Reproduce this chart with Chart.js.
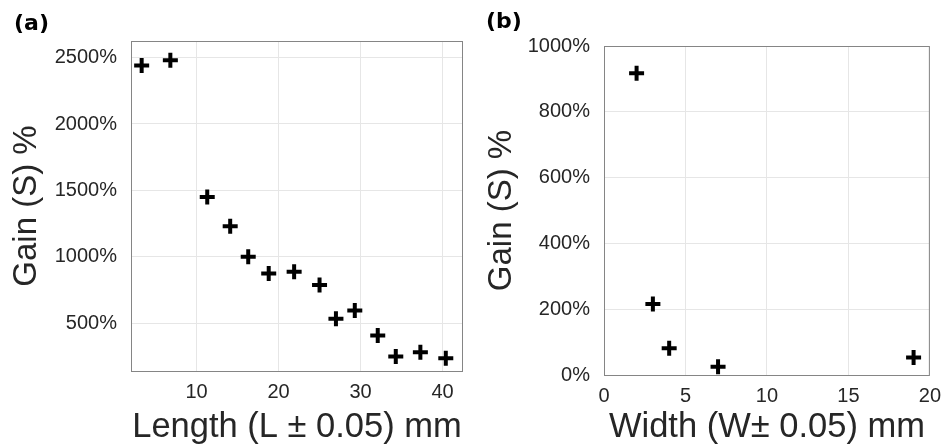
<!DOCTYPE html>
<html>
<head>
<meta charset="utf-8">
<script src="https://cdn.jsdelivr.net/npm/chart.js@4"></script>
<style>
    body { margin: 0; background: #fff; }
    .panel { position: absolute; top: 0; width: 475px; height: 448px; }
    .tag { position: absolute; font: bold 22px "DejaVu Sans", sans-serif; color: #000; }
</style>
</head>
<body>
<div class="panel" style="left:0"><canvas id="chartA" width="475" height="448"></canvas></div>
<div class="panel" style="left:475px"><canvas id="chartB" width="475" height="448"></canvas></div>
<div class="tag" style="left:14px; top:10px">(a)</div>
<div class="tag" style="left:486px; top:8px">(b)</div>
<script>
// panel (a): gain vs length
const lengthMm = [3.3, 6.8, 11.3, 14.1, 16.3, 18.8, 21.9, 25.0, 27.0, 29.3, 32.1, 34.3, 37.3, 40.4];
const gainA = [2440, 2480, 1450, 1230, 1000, 875, 887, 787, 533, 596, 407, 249, 282, 236];
const xTicksA = [10, 20, 30, 40];
const yTicksA = [500, 1000, 1500, 2000, 2500];

// panel (b): gain vs width
const widthMm = [2, 3, 4, 7, 19];
const gainB = [917, 216, 81, 25, 53];
const xTicksB = [0, 5, 10, 15, 20];
const yTicksB = [0, 200, 400, 600, 800, 1000];

const textColor = '#262626';
const tickFont = { family: 'Liberation Sans, Arial, sans-serif', size: 20 };
const xTitleFont = { family: 'Liberation Sans, Arial, sans-serif', size: 34.5 };
const yTitleFont = { family: 'Liberation Sans, Arial, sans-serif', size: 33 };

// MATLAB style full box around the plot area
const boxPlugin = {
    id: 'box',
    afterDraw(chart) {
        const a = chart.chartArea;
        const ctx = chart.ctx;
        ctx.save();
        ctx.strokeStyle = '#858585';
        ctx.lineWidth = 1;
        ctx.strokeRect(a.left + 0.5, a.top + 0.5, a.right - a.left - 1, a.bottom - a.top);
        ctx.restore();
    }
};

function makeChart(id, xs, ys, cfg) {
    return new Chart(document.getElementById(id), {
        type: 'scatter',
        data: {
            datasets: [{
                data: xs.map((x, i) => ({ x: x, y: ys[i] })),
                pointStyle: 'cross',
                pointRadius: 7.5,
                pointBorderWidth: 4,
                borderColor: '#000',
                backgroundColor: '#000',
                clip: false
            }]
        },
        options: {
            responsive: false,
            animation: false,
            layout: { padding: { top: cfg.top, right: cfg.right, left: 0, bottom: 0 } },
            plugins: { legend: { display: false }, tooltip: { enabled: false } },
            scales: {
                x: {
                    type: 'linear',
                    min: cfg.xMin, max: cfg.xMax,
                    afterBuildTicks: s => { s.ticks = cfg.xTicks.map(v => ({ value: v })); },
                    afterFit: s => { s.height = cfg.xHeight; },
                    grid: { color: '#e6e6e6', drawTicks: false },
                    border: { display: false },
                    ticks: { font: tickFont, color: textColor, padding: 9, maxRotation: 0 },
                    title: { display: true, text: cfg.xTitle, font: xTitleFont, color: textColor, padding: { top: 0, bottom: 0 } }
                },
                y: {
                    type: 'linear',
                    min: cfg.yMin, max: cfg.yMax,
                    afterBuildTicks: s => { s.ticks = cfg.yTicks.map(v => ({ value: v })); },
                    afterFit: s => { s.width = cfg.yWidth; },
                    grid: { color: '#e6e6e6', drawTicks: false },
                    border: { display: false },
                    ticks: { font: tickFont, color: textColor, padding: 14, callback: v => v + '%' },
                    title: { display: true, text: 'Gain (S) %', font: yTitleFont, color: textColor, padding: { top: 7, bottom: 0 } }
                }
            }
        },
        plugins: [boxPlugin]
    });
}

makeChart('chartA', lengthMm, gainA, {
    top: 41, right: 12, xHeight: 77, yWidth: 131,
    xMin: 2, xMax: 42.5, yMin: 140, yMax: 2625,
    xTicks: xTicksA, yTicks: yTicksA,
    xTitle: 'Length (L \u00b1 0.05) mm'
});

makeChart('chartB', widthMm, gainB, {
    top: 46, right: 12, xHeight: 73, yWidth: 129,
    xMin: 0, xMax: 20, yMin: 0, yMax: 1000,
    xTicks: xTicksB, yTicks: yTicksB,
    xTitle: 'Width (W\u00b1 0.05) mm'
});
</script>
</body>
</html>
